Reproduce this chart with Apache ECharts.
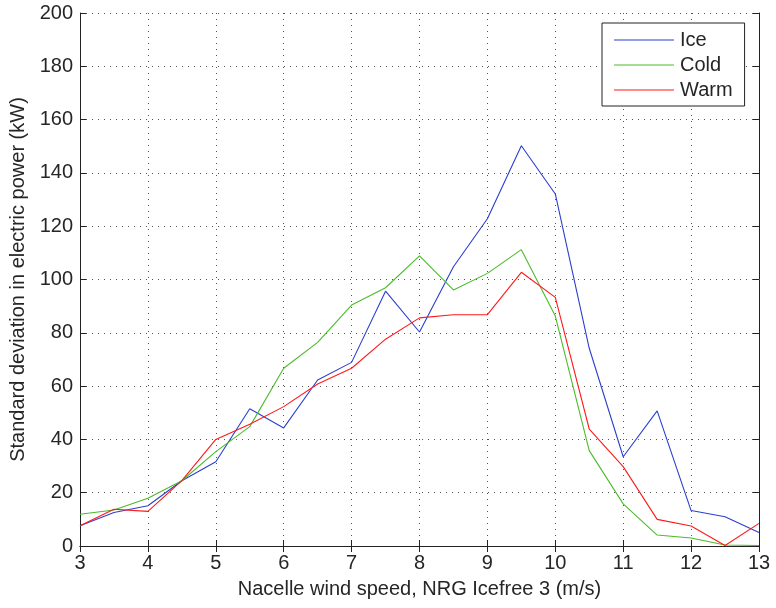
<!DOCTYPE html>
<html>
<head>
<meta charset="utf-8">
<script src="https://cdn.jsdelivr.net/npm/echarts@6/dist/echarts.min.js"></script>
<style>
  html, body { margin: 0; padding: 0; background: #fff; }
  #chart { width: 776px; height: 608px; }
</style>
</head>
<body>
<div id="chart"></div>
<script>
// Wind speed bins (m/s)
const windSpeed = [3, 3.5, 4, 4.5, 5, 5.5, 6, 6.5, 7, 7.5, 8, 8.5, 9, 9.5, 10, 10.5, 11, 11.5, 12, 12.5, 13];

// Standard deviation of electric power (kW) per bin
const iceValues  = [7.6, 12.6, 15.1, 24.5, 31.6, 51.5, 44.3, 62.3, 68.9, 95.6, 80.3, 104.8, 122.8, 150.2, 132.1, 74.2, 33.5, 50.7, 13.3, 11.0, 5.1];
const coldValues = [11.9, 13.5, 17.9, 24.5, 35.4, 44.8, 66.7, 76.4, 90.4, 96.9, 108.9, 96.1, 102.3, 111.2, 86.3, 35.8, 15.8, 4.1, 3.0, 0.4, 0.2];
const warmValues = [7.6, 13.8, 13.0, 24.5, 40.0, 45.7, 52.3, 60.8, 66.7, 77.6, 85.6, 86.8, 86.8, 102.7, 93.3, 43.9, 29.8, 10.0, 7.5, 0.2, 8.5];

const seriesNames = ['Ice', 'Cold', 'Warm'];
const seriesColors = ['#2a3fd0', '#4cbb2c', '#ff1a1a'];
const seriesData = [iceValues, coldValues, warmValues];

const font = 'Liberation Sans, Arial, Helvetica, sans-serif';
const textColor = '#262626';

const pairs = vals => windSpeed.map((x, i) => [x, vals[i]]);

const chart = echarts.init(document.getElementById('chart'), null, { renderer: 'canvas' });

const dotted = { show: true, lineStyle: { color: '#555', width: 1, type: [1, 5] } };
const axisLine = { show: true, lineStyle: { color: '#222', width: 1 } };
const tickIn = { show: true, inside: true, length: 6, lineStyle: { color: '#222' } };

chart.setOption({
  animation: false,
  backgroundColor: '#fff',
  grid: { left: 80, right: 17, top: 13, bottom: 62, show: false },
  legend: {
    orient: 'vertical',
    left: 602,
    top: 23,
    padding: [7, 12, 6, 12],
    icon: 'rect',
    itemWidth: 60,
    itemHeight: 1.2,
    itemGap: 5,
    borderColor: '#222',
    borderWidth: 1,
    backgroundColor: '#fff',
    textStyle: { fontFamily: font, fontSize: 20, lineHeight: 20, color: textColor, padding: [0, 0, 0, 1] },
    data: seriesNames
  },
  xAxis: [
    {
      type: 'value', min: 3, max: 13, interval: 1, position: 'bottom',
      name: 'Nacelle wind speed, NRG Icefree 3 (m/s)',
      nameLocation: 'middle', nameGap: 33,
      nameTextStyle: { fontFamily: font, fontSize: 20, color: textColor },
      axisLine: axisLine, axisTick: tickIn,
      axisLabel: { fontFamily: font, fontSize: 20, color: textColor, margin: 7 },
      splitLine: dotted
    },
    {
      type: 'value', min: 3, max: 13, interval: 1, position: 'top',
      axisLine: axisLine, axisTick: tickIn,
      axisLabel: { show: false }, splitLine: { show: false }
    }
  ],
  yAxis: [
    {
      type: 'value', min: 0, max: 200, interval: 20, position: 'left',
      name: 'Standard deviation in electric power (kW)',
      nameLocation: 'middle', nameGap: 51,
      nameTextStyle: { fontFamily: font, fontSize: 20, color: textColor },
      axisLine: axisLine, axisTick: tickIn,
      axisLabel: { fontFamily: font, fontSize: 20, color: textColor, margin: 7 },
      splitLine: dotted
    },
    {
      type: 'value', min: 0, max: 200, interval: 20, position: 'right',
      axisLine: axisLine, axisTick: tickIn,
      axisLabel: { show: false }, splitLine: { show: false }
    }
  ],
  series: seriesNames.map((name, i) => ({
    name: name,
    type: 'line',
    data: pairs(seriesData[i]),
    xAxisIndex: 0,
    yAxisIndex: 0,
    symbol: 'none',
    smooth: false,
    lineStyle: { color: seriesColors[i], width: 1.1 },
    itemStyle: { color: seriesColors[i] },
    z: 3 + i
  }))
});
</script>
</body>
</html>
